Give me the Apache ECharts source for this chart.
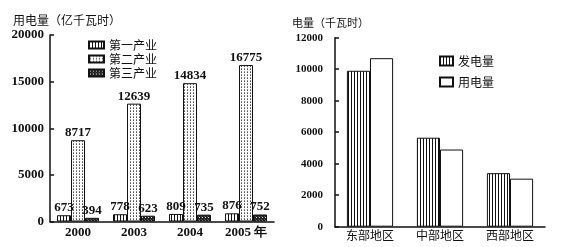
<!DOCTYPE html>
<html>
<head>
<meta charset="utf-8">
<script src="https://cdn.jsdelivr.net/npm/echarts@6/dist/echarts.min.js"></script>
<style>html,body{margin:0;padding:0;background:#fff}#c{width:566px;height:247px}</style>
</head>
<body>
<div id="c"></div>
<script>
// ---- data ----
const yearCats = ['2000', '2003', '2004', '2005'];
const yearLabels = ['2000', '2003', '2004', '2005 年'];
const primaryUse = [673, 778, 809, 876];
const secondaryUse = [8717, 12639, 14834, 16775];
const tertiaryUse = [394, 623, 735, 752];
const leftSeriesNames = ['第一产业', '第二产业', '第三产业'];
const leftTitle = '用电量（亿千瓦时）';
const leftMax = 20000, leftStep = 5000;

const regionCats = ['东部地区', '中部地区', '西部地区'];
const generation = [9900, 5650, 3400];
const consumption = [10700, 4900, 3050];
const rightSeriesNames = ['发电量', '用电量'];
const rightTitle = '电量（千瓦时）';
const rightMax = 12000, rightStep = 2000;

// ---- patterns ----
function makePattern(w, h, bg, pixels) {
  const c = document.createElement('canvas');
  c.width = w; c.height = h;
  const ctx = c.getContext('2d');
  ctx.fillStyle = bg; ctx.fillRect(0, 0, w, h);
  pixels.forEach(p => { ctx.fillStyle = p[2]; ctx.fillRect(p[0], p[1], 1, 1); });
  return { image: c, repeat: 'repeat' };
}
const stripes = () => makePattern(3, 1, '#fff', [[0, 0, '#111']]);
const dots = makePattern(3, 3, '#fff', [[1, 0, '#555'], [1, 2, '#888']]);
const hatch = makePattern(3, 3, '#222', [[1, 1, '#ddd'], [0, 0, '#555']]);

const serif = 'Liberation Serif';
const cjk = 'Noto Sans CJK SC';
const ink = '#111';

const baseItem = { borderColor: ink, borderWidth: 1 };
const leftLabel = { show: true, position: 'top', distance: 1, fontFamily: serif, fontWeight: 'bold', fontSize: 13, color: ink };
const plain = v => String(v);

const chart = echarts.init(document.getElementById('c'));
chart.setOption({
  animation: false,
  backgroundColor: '#fff',
  title: [
    { text: leftTitle, left: 13, top: 14, padding: 0, textStyle: { fontFamily: cjk, fontSize: 12, fontWeight: 'normal', color: ink } },
    { text: rightTitle, left: 292, top: 17, padding: 0, textStyle: { fontFamily: cjk, fontSize: 11, fontWeight: 'normal', color: ink } }
  ],
  legend: [
    { data: leftSeriesNames, icon: 'rect', orient: 'vertical', left: 88, top: 39, padding: 0, itemWidth: 15, itemHeight: 7, itemGap: 2,
      textStyle: { fontFamily: cjk, fontSize: 12, color: ink } },
    { data: rightSeriesNames, icon: 'rect', orient: 'vertical', left: 439, top: 55, padding: 0, itemWidth: 13, itemHeight: 9, itemGap: 9,
      textStyle: { fontFamily: cjk, fontSize: 12, color: ink } }
  ],
  grid: [
    { left: 50, top: 35, width: 224, height: 186.5 },
    { left: 335, top: 37.7, width: 210, height: 189 }
  ],
  xAxis: [
    { type: 'category', gridIndex: 0, data: yearCats,
      axisLine: { lineStyle: { color: ink, width: 1.5 } }, axisTick: { show: false },
      axisLabel: { margin: 5, fontFamily: serif, fontWeight: 'bold', fontSize: 13, color: ink,
        formatter: (v, i) => yearLabels[i] } },
    { type: 'category', gridIndex: 1, data: regionCats,
      axisLine: { lineStyle: { color: ink, width: 1.5 } }, axisTick: { show: false },
      axisLabel: { margin: 3, fontFamily: cjk, fontSize: 12, color: ink } }
  ],
  yAxis: [
    { type: 'value', gridIndex: 0, min: 0, max: leftMax, interval: leftStep,
      axisLine: { show: true, lineStyle: { color: ink, width: 1.5 } },
      axisTick: { show: true, inside: true, length: 4, lineStyle: { color: ink, width: 1.5 } },
      splitLine: { show: false },
      axisLabel: { margin: 6, formatter: plain, fontFamily: serif, fontWeight: 'bold', fontSize: 13, color: ink } },
    { type: 'value', gridIndex: 1, min: 0, max: rightMax, interval: rightStep,
      axisLine: { show: true, lineStyle: { color: ink, width: 1.5 } },
      axisTick: { show: true, inside: true, length: 4, lineStyle: { color: ink, width: 1.5 } },
      splitLine: { show: false },
      axisLabel: { margin: 12, formatter: plain, fontFamily: serif, fontWeight: 'bold', fontSize: 11, color: ink } }
  ],
  series: [
    { name: leftSeriesNames[0], type: 'bar', xAxisIndex: 0, yAxisIndex: 0, data: primaryUse,
      barGap: '0%', barCategoryGap: '25%', itemStyle: Object.assign({ color: stripes() }, baseItem), label: leftLabel },
    { name: leftSeriesNames[1], type: 'bar', xAxisIndex: 0, yAxisIndex: 0, data: secondaryUse,
      barGap: '0%', barCategoryGap: '25%', itemStyle: Object.assign({ color: dots }, baseItem), label: leftLabel },
    { name: leftSeriesNames[2], type: 'bar', xAxisIndex: 0, yAxisIndex: 0, data: tertiaryUse,
      barGap: '0%', barCategoryGap: '25%', itemStyle: Object.assign({ color: hatch }, baseItem), label: leftLabel },
    { name: rightSeriesNames[0], type: 'bar', xAxisIndex: 1, yAxisIndex: 1, data: generation,
      barGap: '0%', barCategoryGap: '34%', itemStyle: Object.assign({ color: stripes() }, baseItem) },
    { name: rightSeriesNames[1], type: 'bar', xAxisIndex: 1, yAxisIndex: 1, data: consumption,
      barGap: '0%', barCategoryGap: '34%', itemStyle: Object.assign({ color: '#fff' }, baseItem) }
  ]
});
</script>
</body>
</html>
